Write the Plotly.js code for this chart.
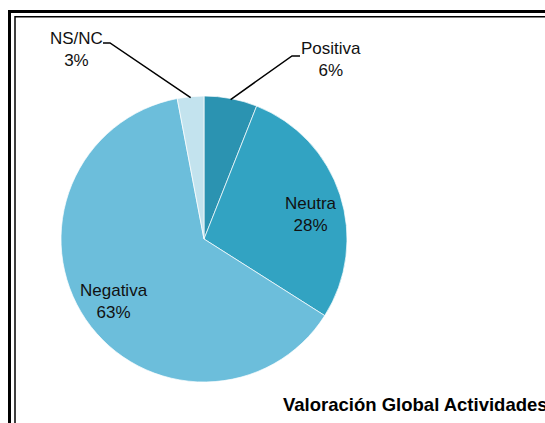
<!DOCTYPE html>
<html>
<head>
<meta charset="utf-8">
<script src="https://cdn.plot.ly/plotly-3.0.1.min.js"></script>
<style>html,body{margin:0;padding:0;background:#fff;}#chart{width:545px;height:423px;}</style>
</head>
<body>
<div id="chart"></div>
<script>
const labels = ['Positiva', 'Neutra', 'Negativa', 'NS/NC'];
const values = [6, 28, 63, 3];
const sliceColors = ['#2b93b1', '#32a3c2', '#6cbedb', '#c3e3ee'];
const chartTitle = 'Valoración Global Actividades';

const W = 545, H = 423;
const cx = 204, cy = 239, R = 143;
const X = px => px / W;
const Y = py => 1 - py / H;

const total = values.reduce((a, b) => a + b, 0);
const mids = [];
let cum = 0;
values.forEach(v => { mids.push((cum + v / 2) / total * 2 * Math.PI); cum += v; });
const pt = (i, r) => [cx + r * Math.sin(mids[i]), cy - r * Math.cos(mids[i])];
const pctText = i => Math.round(values[i] / total * 100) + '%';

const font = {family: 'Liberation Sans, Arial, sans-serif', size: 17, color: '#111'};
const annotations = [];
const shapes = [];

// inside labels (Neutra, Negativa), with small pixel nudges
[{i: 1, dx: 4, dy: 9}, {i: 2, dx: 0, dy: 1}].forEach(o => {
  const [px, py] = pt(o.i, 0.76 * R);
  annotations.push({xref: 'paper', yref: 'paper', x: X(px + o.dx), y: Y(py + o.dy), text: labels[o.i] + '<br>' + pctText(o.i),
    showarrow: false, font: font, xanchor: 'center', yanchor: 'middle', align: 'center'});
});

// outside labels with leader lines
const outside = [
  {i: 3, tx: 76, ty: 49, elbow: [110, 43], end: [103, 43]},
  {i: 0, tx: 331, ty: 60, elbow: [292, 56], end: [300, 56]}
];
outside.forEach(o => {
  annotations.push({xref: 'paper', yref: 'paper', x: X(o.tx), y: Y(o.ty), text: labels[o.i] + '<br>' + pctText(o.i),
    showarrow: false, font: font, xanchor: 'center', yanchor: 'middle', align: 'center'});
  const [rx, ry] = pt(o.i, R - 1);
  shapes.push({type: 'path', xref: 'paper', yref: 'paper',
    path: `M ${X(rx)},${Y(ry)} L ${X(o.elbow[0])},${Y(o.elbow[1])} L ${X(o.end[0])},${Y(o.end[1])}`,
    line: {color: '#000', width: 1.5}});
});

// title (cut at the right edge, as in the original)
annotations.push({xref: 'paper', yref: 'paper', x: X(281), y: Y(404), text: '<b>' + chartTitle + '</b>',
  showarrow: false, xanchor: 'left', yanchor: 'middle',
  font: {family: 'Liberation Sans, Arial, sans-serif', size: 18.5, color: '#000'}});

// double frame
shapes.push({type: 'rect', xref: 'paper', yref: 'paper', x0: X(9.5), y0: -0.2, x1: 1.2, y1: Y(11.5),
  line: {color: '#000', width: 3}, fillcolor: 'rgba(0,0,0,0)'});
shapes.push({type: 'rect', xref: 'paper', yref: 'paper', x0: X(15), y0: -0.2, x1: 1.2, y1: Y(16.8),
  line: {color: '#000', width: 1.5}, fillcolor: 'rgba(0,0,0,0)'});

const trace = {
  type: 'pie', labels: labels, values: values, sort: false, direction: 'clockwise', rotation: 0,
  marker: {colors: sliceColors, line: {color: 'rgba(255,255,255,0.7)', width: 1}},
  textinfo: 'none', hoverinfo: 'none',
  domain: {x: [X(cx - R), X(cx + R)], y: [Y(cy + R), Y(cy - R)]}
};

Plotly.newPlot('chart', [trace], {
  width: W, height: H, margin: {l: 0, r: 0, t: 0, b: 0},
  paper_bgcolor: '#fff', showlegend: false,
  annotations: annotations, shapes: shapes
}, {staticPlot: true});
</script>
</body>
</html>
